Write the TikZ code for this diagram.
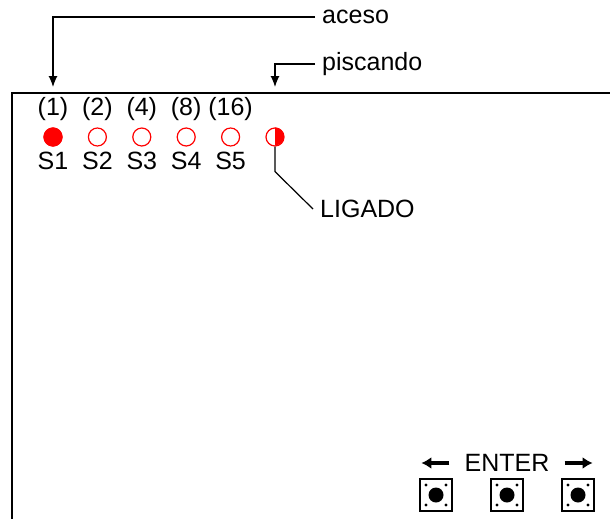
\documentclass[tikz,border=0pt]{standalone}
\usepackage{fontspec}
\setmainfont{Liberation Sans}
\usetikzlibrary{arrows.meta}
\begin{document}
\begin{tikzpicture}[x=1pt,y=-1pt,>={Latex[length=11pt,width=9pt]},
  txt/.style={inner sep=0pt,font=\fontsize{25}{30}\selectfont},
  lead/.style={line width=1.2pt},
  led/.style={circle,draw=red,line width=1.2pt,minimum size=18pt,inner sep=0pt},
  btn/.style={draw,line width=1.6pt,minimum size=32pt,inner sep=0pt},
  keyarrow/.style={line width=3.5pt,-{Latex[length=10pt,width=12pt]}}]
\useasboundingbox[fill=white] (0,0) rectangle (610,519);

% boitier
\draw[line width=1.8pt] (12,521) -- (12,93) -- (612,93);

% leds
\foreach \i/\v in {1/1,2/2,3/4,4/8,5/16}{
  \node(L\i)[led] at ({53+44.4*(\i-1)},137){};
  \node(V\i)[txt] at ({53+44.4*(\i-1)},109){(\v)};
  \node(S\i)[txt] at ({53+44.4*(\i-1)},161){S\i};
}
\fill[red] (L1.center) circle[radius=9.6pt];
\node(L6)[led] at (275,137){};
\fill[red] (L6.north) arc[start angle=90,end angle=-90,radius=9pt] -- cycle;

% legendes
\node(Aceso)[txt,anchor=west,inner xsep=7pt] at (315,17){aceso};
\node(Pisc)[txt,anchor=west,inner xsep=7pt] at (315,64){piscando};
\node(Lig)[txt,anchor=west,inner xsep=7pt] at (313,209){LIGADO};
\coordinate(TipA) at (53,87);
\coordinate(TipP) at (275,87);
\draw[lead,->] (Aceso.west) -| (TipA);
\draw[lead,->] (Pisc.west) -| (TipP);
\draw[lead] (L6.south) -- ++(0,25) -- (Lig.west);

% touches
\foreach \j/\x in {1/436,2/507,3/578}{
  \node(B\j)[btn] at (\x,495){};
  \fill (B\j.center) circle[radius=7.5pt];
  \foreach \dx/\dy in {-10/-10,10/-10,-10/10,10/10}
    \fill ([shift={(\dx pt,\dy pt)}]B\j.center) circle[radius=1.6pt];
}
\node(Enter)[txt] at (507,463){ENTER};
\draw[keyarrow] ([xshift=-15pt]Enter.west) -- ++(-28,0);
\draw[keyarrow] ([xshift=15pt]Enter.east) -- ++(28,0);
\end{tikzpicture}
\end{document}
